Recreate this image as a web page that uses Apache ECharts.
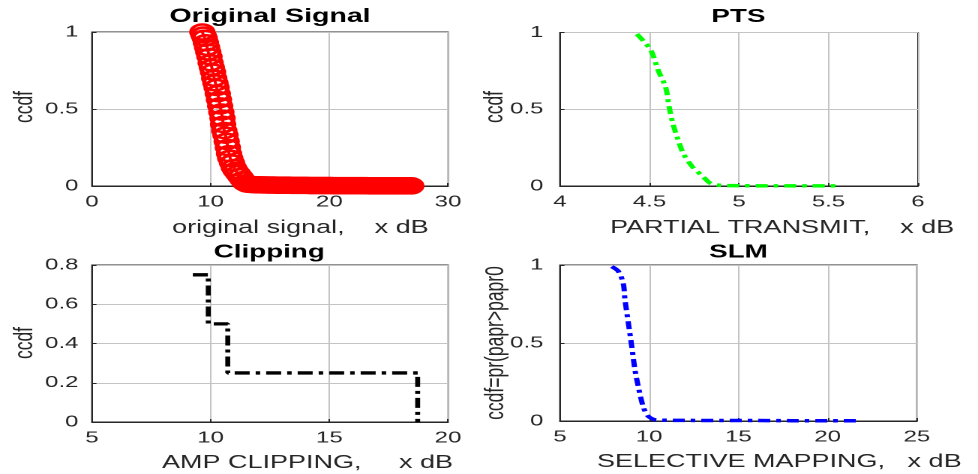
<!DOCTYPE html>
<html>
<head>
<meta charset="utf-8">
<script src="https://cdn.jsdelivr.net/npm/echarts@6/dist/echarts.min.js"></script>
<style>
html, body { margin: 0; padding: 0; background: #fff; overflow: hidden; }
/* the picture is stretched sideways, so draw narrow and widen it */
#main { width: 652px; height: 474px; transform: scaleX(1.5); transform-origin: 0 0; }
</style>
</head>
<body>
<div id="main"></div>
<script>
// original signal, ccdf (red circles)
var origX = [9.3, 9.4, 9.5, 9.6, 9.7, 9.8, 9.9, 10.0, 10.1, 10.2, 10.3, 10.4, 10.5, 10.6, 10.7, 10.8,
  10.9, 11.0, 11.05, 11.15, 11.25, 11.35, 11.45, 11.55, 11.65, 11.8, 11.95, 12.1, 12.3, 12.5, 12.7, 12.9,
  13.1, 13.35, 13.6, 13.85, 14.1, 14.35, 14.6, 14.85, 15.1, 15.35, 15.6, 15.85, 16.1, 16.35, 16.6, 16.85,
  17.1, 17.35, 17.6, 17.85, 18.1, 18.35, 18.6, 18.85, 19.1, 19.35, 19.6, 19.85, 20.1, 20.35, 20.6, 20.85,
  21.1, 21.35, 21.6, 21.85, 22.1, 22.35, 22.6, 22.85, 23.1, 23.35, 23.6, 23.85, 24.1, 24.35, 24.6, 24.85,
  25.1, 25.35, 25.6, 25.85, 26.1, 26.35, 26.6, 26.9];
var origY = [1.0, 0.98, 0.96, 0.93, 0.9, 0.87, 0.84, 0.8, 0.77, 0.74, 0.7, 0.67, 0.64, 0.6, 0.56, 0.52,
  0.48, 0.44, 0.4, 0.36, 0.33, 0.29, 0.25, 0.21, 0.18, 0.15, 0.12, 0.1, 0.08, 0.06, 0.04, 0.02,
  0.012, 0.01, 0.009, 0.008, 0.008, 0.007, 0.007, 0.006, 0.006, 0.006, 0.005, 0.005, 0.005, 0.005, 0.005, 0.004,
  0.004, 0.004, 0.004, 0.004, 0.004, 0.003, 0.003, 0.003, 0.003, 0.003, 0.003, 0.003, 0.003, 0.002, 0.002, 0.002,
  0.002, 0.002, 0.002, 0.002, 0.002, 0.002, 0.002, 0.002, 0.002, 0.001, 0.001, 0.001, 0.001, 0.001, 0.001, 0.001,
  0.001, 0.001, 0.001, 0.001, 0.001, 0.001, 0.001, 0.001];

// PTS (green)
var ptsX = [4.43, 4.47, 4.51, 4.55, 4.59, 4.61, 4.63, 4.66, 4.69, 4.74, 4.8, 4.84, 4.89, 5.0, 5.2, 5.4, 5.55];
var ptsY = [0.99, 0.94, 0.88, 0.75, 0.645, 0.515, 0.41, 0.3, 0.21, 0.125, 0.06, 0.018, 0.005, 0.002, 0.001, 0.001, 0.001];

// clipping (black steps)
var clipX = [9.25, 9.9, 10.72, 18.72];
var clipY = [0.75, 0.5, 0.25, 0];

// SLM (blue)
var slmX = [7.9, 8.27, 8.55, 8.64, 8.83, 9.02, 9.2, 9.39, 9.67, 9.95, 10.42, 12, 14, 16, 18, 20, 21.8];
var slmY = [0.99, 0.96, 0.88, 0.78, 0.63, 0.48, 0.33, 0.22, 0.09, 0.03, 0.006, 0.004, 0.003, 0.003, 0.002, 0.002, 0.002];

var titles = ['Original Signal', 'PTS', 'Clipping', 'SLM'];
var xNames = ['original signal,    x dB', 'PARTIAL TRANSMIT,    x dB', 'AMP CLIPPING,     x dB', 'SELECTIVE MAPPING,   x dB'];
var yNames = ['ccdf', 'ccdf', 'ccdf', 'ccdf=pr(papr>papr0'];

var fontName = '"Liberation Sans", Arial, sans-serif';
var ink = '#262626';

function pairs(xs, ys) {
  return xs.map(function (x, i) { return [x, ys[i]]; });
}

function makeAxis(idx, min, max, step, margin) {
  return {
    type: 'value', gridIndex: idx, min: min, max: max, interval: step,
    axisLine: { show: true, onZero: false, lineStyle: { color: ink } },
    axisTick: { show: true, inside: true, length: 3, lineStyle: { color: ink } },
    axisLabel: { color: ink, fontSize: 16, fontFamily: fontName, margin: margin },
    splitLine: { show: true, lineStyle: { color: '#c4c4c4', width: 1, type: 'solid' } }
  };
}

function makeGrid(left, right, top, bottom) {
  return { left: left, right: right, top: top, bottom: bottom, show: true, borderColor: ink, borderWidth: 1 };
}

function label(text, x, y, size, bold, rot, align) {
  return {
    type: 'text', x: x, y: y, rotation: rot || 0,
    style: {
      text: text, fill: bold ? '#000' : ink,
      font: (bold ? 'bold ' : '') + size + 'px ' + fontName,
      align: align || 'center', verticalAlign: 'middle',
      textAlign: align || 'center', textVerticalAlign: 'middle'
    }
  };
}

var option = {
  animation: false,
  backgroundColor: '#fff',
  grid: [
    makeGrid(61.3, 353.3, 32, 288),
    makeGrid(373.3, 40, 32.5, 288),
    makeGrid(61.3, 353.3, 265, 52),
    makeGrid(373.3, 40.7, 265, 53)
  ],
  xAxis: [
    makeAxis(0, 0, 30, 10, 8),
    makeAxis(1, 4, 6, 0.5, 8),
    makeAxis(2, 5, 20, 5, 8),
    makeAxis(3, 5, 25, 5, 8)
  ],
  yAxis: [
    makeAxis(0, 0, 1, 0.5, 9),
    makeAxis(1, 0, 1, 0.5, 11),
    makeAxis(2, 0, 0.8, 0.2, 9),
    makeAxis(3, 0, 1, 0.5, 11)
  ],
  series: [
    {
      type: 'line', xAxisIndex: 0, yAxisIndex: 0, data: pairs(origX, origY), clip: false,
      symbol: 'circle', symbolSize: 15, showAllSymbol: true,
      itemStyle: { color: 'rgba(255,0,0,0)', borderColor: '#ff0000', borderWidth: 2.6 },
      lineStyle: { color: '#ff0000', width: 2 }
    },
    {
      type: 'line', xAxisIndex: 1, yAxisIndex: 1, data: pairs(ptsX, ptsY), smooth: 0.3,
      showSymbol: false, lineStyle: { color: '#00ff00', width: 3.5, type: [8, 4, 3, 4] }
    },
    {
      type: 'line', xAxisIndex: 2, yAxisIndex: 2, data: pairs(clipX, clipY), step: 'end',
      showSymbol: false, lineStyle: { color: '#000', width: 3.3, type: [10, 4, 3, 4] }
    },
    {
      type: 'line', xAxisIndex: 3, yAxisIndex: 3, data: pairs(slmX, slmY), smooth: 0.3,
      showSymbol: false, lineStyle: { color: '#0000ff', width: 3.5, type: [8, 4, 3, 4] }
    }
  ],
  graphic: [
    label(titles[0], 180, 17, 19, true),
    label(titles[1], 492.3, 17, 18.5, true),
    label(titles[2], 179.5, 252.5, 18.5, true),
    label(titles[3], 492.3, 252.5, 18.5, true),
    label(xNames[0], 114.7, 228, 18, false, 0, 'left'),
    label(xNames[1], 406.7, 228, 18, false, 0, 'left'),
    label(xNames[2], 108, 463, 18, false, 0, 'left'),
    label(xNames[3], 398, 462, 18, false, 0, 'left'),
    label(yNames[0], 16.7, 107, 17.5, false, Math.PI / 2),
    label(yNames[1], 330, 107, 17.5, false, Math.PI / 2),
    label(yNames[2], 16.7, 343, 17.5, false, Math.PI / 2),
    label(yNames[3], 330.7, 343, 17.5, false, Math.PI / 2)
  ]
};

var chart = echarts.init(document.getElementById('main'), null, { devicePixelRatio: 2 });
chart.setOption(option);
</script>
</body>
</html>
